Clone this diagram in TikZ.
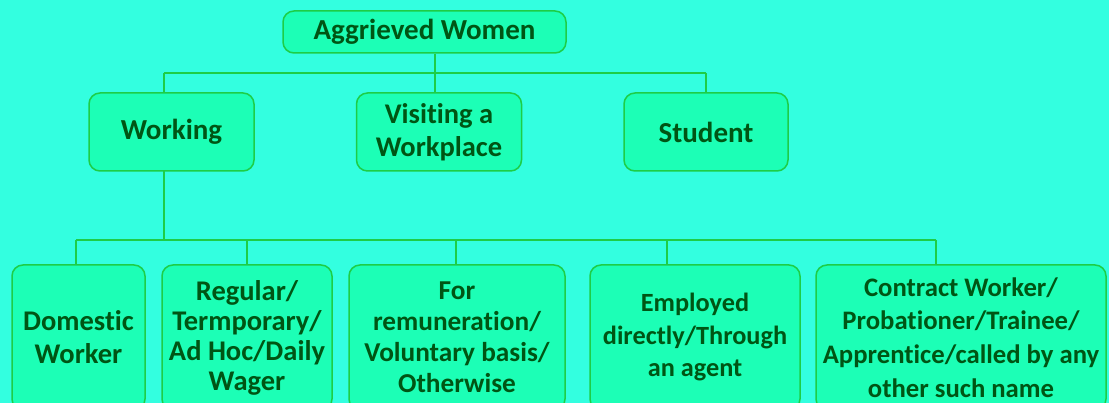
\documentclass[tikz,border=0pt]{standalone}
\usepackage{fontspec}
\setmainfont[Ligatures=NoCommon]{Carlito}
\definecolor{bgc}{RGB}{51,255,224}
\definecolor{boxfill}{RGB}{28,255,182}
\definecolor{boxline}{RGB}{30,205,70}
\definecolor{txt}{RGB}{0,85,20}
\newcommand{\fsz}[2]{\fontsize{#1}{#2}\selectfont\bfseries}
\tikzset{
  bx/.style={draw=boxline, fill=boxfill, line width=1.5pt, rounded corners=11pt,
    align=center, text=txt, inner sep=0pt},
  conn/.style={draw=boxline, line width=1.5pt}
}
\begin{document}
\begin{tikzpicture}[x=1pt,y=-1pt]
\fill[bgc] (0,0) rectangle (1109,403);
\useasboundingbox (0,0) rectangle (1109,403);
\begin{scope}
\clip (0,0) rectangle (1109,403);
\node[bx, font=\fsz{29}{33}, minimum width=283pt, minimum height=42pt] (top) at (424.5,32) {Aggrieved Women};
\node[bx, font=\fsz{29}{33}, minimum width=165pt, minimum height=78pt] (work) at (171.5,132) {Working};
\node[bx, font=\fsz{28.5}{33}, minimum width=165pt, minimum height=78pt] (visit) at (439,132) {Visiting a\\Workplace};
\node[bx, font=\fsz{29}{33}, minimum width=164pt, minimum height=78pt] (stud) at (706,132) {Student};

\node[bx, font=\fsz{28.5}{33}, minimum width=133pt, minimum height=145pt] (b1) at (78.5,337.5) {Domestic\\Worker};
\node[bx, font=\fsz{28.5}{30}, minimum width=170pt, minimum height=145pt] (b2) at (247,337.5) {Regular/\\Termporary/\\Ad Hoc/Daily\\Wager};
\node[bx, font=\fsz{27.3}{31}, minimum width=216pt, minimum height=145pt] (b3) at (457,337.5) {For\\remuneration/\\Voluntary basis/\\Otherwise};
\node[bx, font=\fsz{26.3}{32.5}, minimum width=210pt, minimum height=145pt] (b4) at (695,337.5) {Employed\\directly/Through\\an agent};
\node[bx, font=\fsz{26.7}{33.7}, minimum width=290pt, minimum height=145pt] (b5) at (961,337.5) {Contract Worker/\\Probationer/Trainee/\\Apprentice/called by any\\other such name};
\end{scope}

\coordinate (j1) at (435,73);
\coordinate (j2) at (164,240);
\draw[conn] (top.south -| j1) -- (j1);
\draw[conn] (j1 -| 164,0) -- (j1 -| stud.north);
\draw[conn] (j1 -| 164,0) -- (164,93);
\draw[conn] (j1) -- (435,93);
\draw[conn] (j1 -| stud.north) -- (stud.north);
\draw[conn] (164,171) -- (j2);
\draw[conn] (76,240) -- (936,240);
\draw[conn] (76,240) -- (76,265);
\draw[conn] (247,240) -- (b2.north);
\draw[conn] (456,240) -- (456,265);
\draw[conn] (667,240) -- (667,265);
\draw[conn] (936,240) -- (936,265);
\end{tikzpicture}
\end{document}
